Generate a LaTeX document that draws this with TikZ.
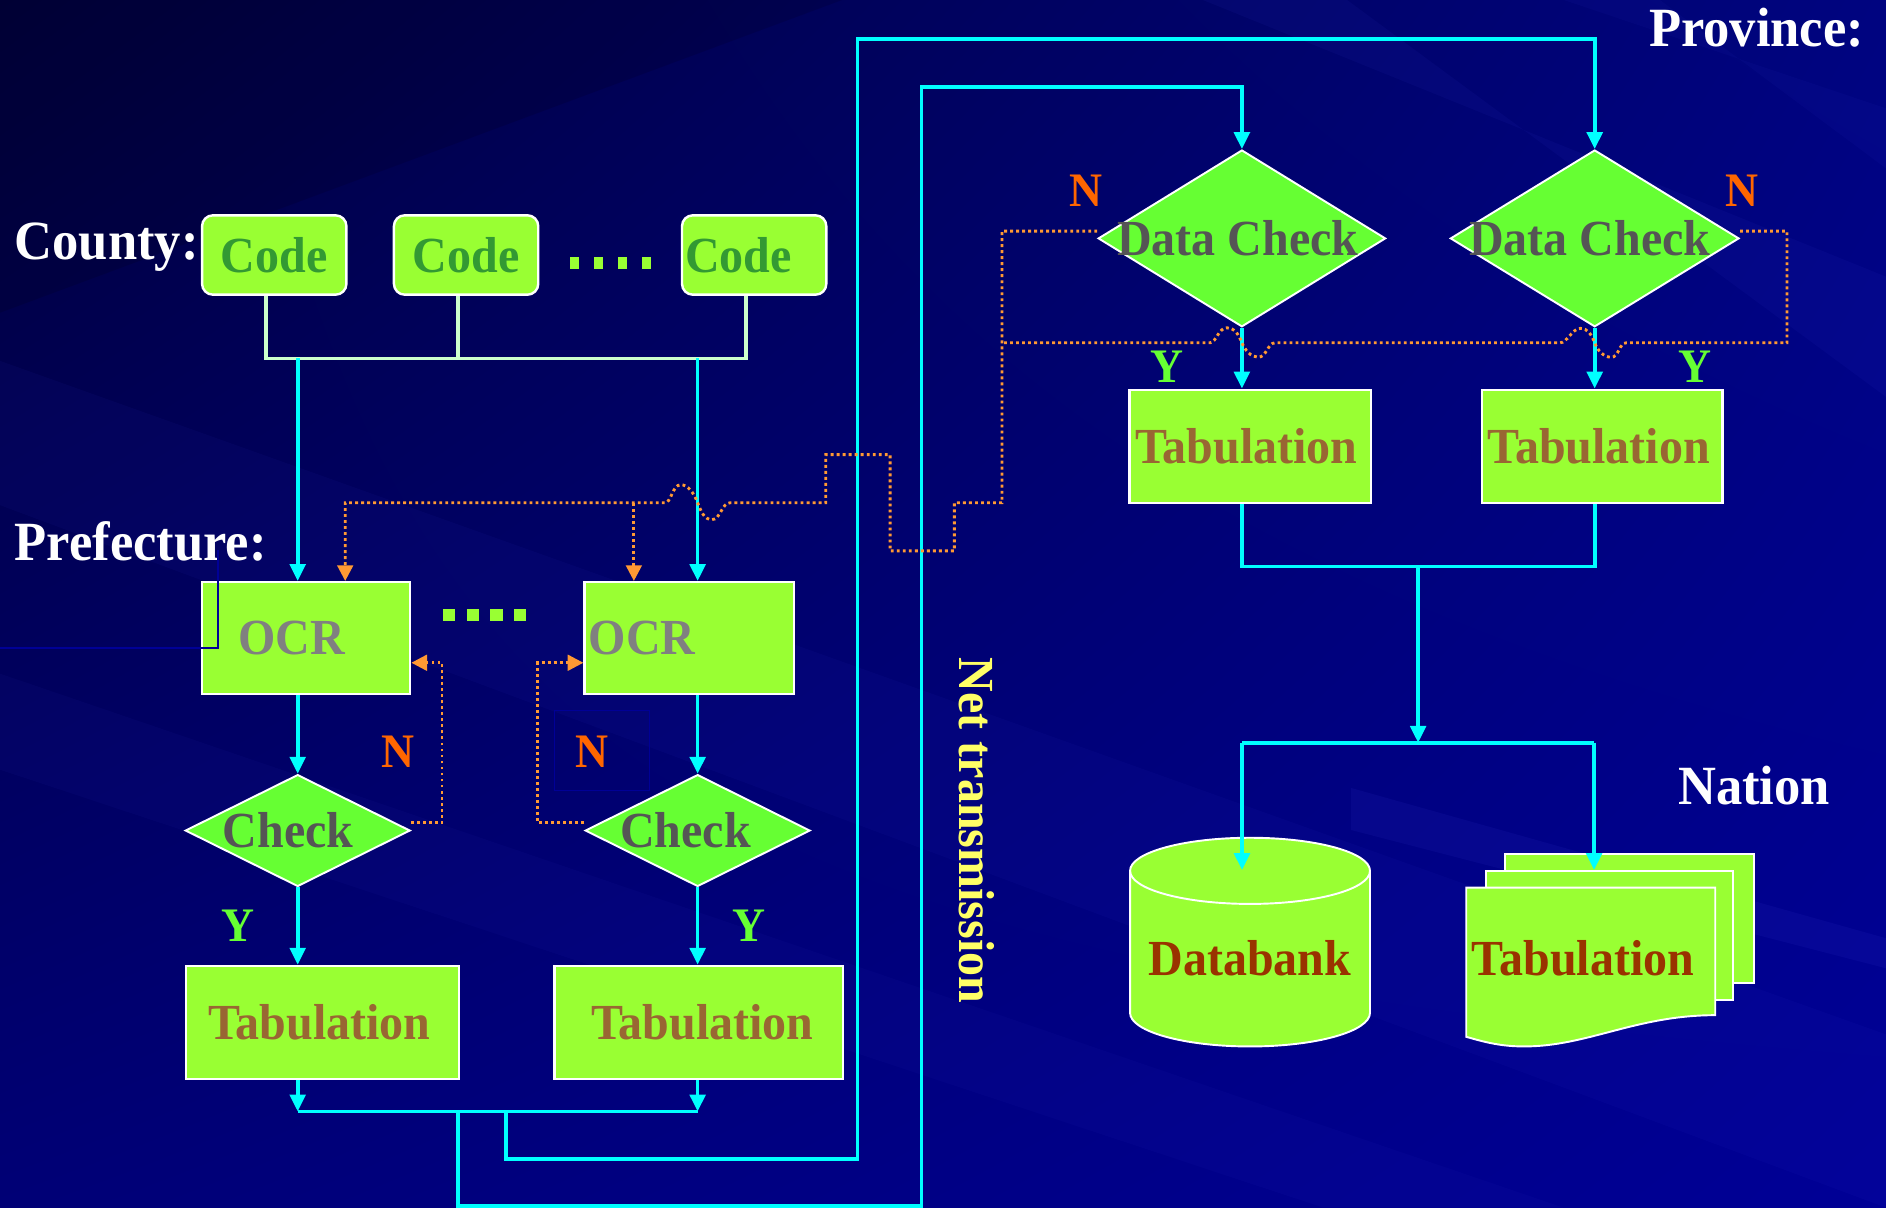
\documentclass[tikz,border=0pt]{standalone}
\usepackage{fontspec}
\setmainfont{Liberation Serif}
\newfontfamily\tnr{Liberation Serif}[FakeStretch=0.95]
\usetikzlibrary{arrows.meta,shapes.geometric,shadings}
\newcommand\myfs[1]{\fontsize{#1pt}{#1pt}\selectfont}
\definecolor{bgUL}{RGB}{0,0,60}
\definecolor{bgUR}{RGB}{0,4,128}
\definecolor{bgLL}{RGB}{0,0,118}
\definecolor{bgLR}{RGB}{0,0,150}
\definecolor{streak}{RGB}{60,60,220}
\definecolor{boxg}{HTML}{99FF33}
\definecolor{diag}{HTML}{66FF33}
\definecolor{codeg}{HTML}{339933}
\definecolor{ocrg}{HTML}{808080}
\definecolor{chkg}{HTML}{555555}
\definecolor{tabb}{HTML}{996633}
\definecolor{natr}{HTML}{993300}
\definecolor{cyanl}{HTML}{00FFFF}
\definecolor{palel}{HTML}{CCFFCC}
\definecolor{orng}{HTML}{FF9933}
\definecolor{nred}{HTML}{FF6600}
\definecolor{ygreen}{HTML}{66FF33}
\definecolor{nettx}{HTML}{FFFF66}
\definecolor{navyl}{RGB}{0,0,150}
\begin{document}
\begin{tikzpicture}[x=1pt,y=-1pt,
  box/.style={draw=white,line width=2pt,fill=boxg,inner sep=0pt},
  codebox/.style={box,rounded corners=9pt,minimum height=66pt},
  dia/.style={diamond,draw=white,line width=1.6pt,fill=diag,inner sep=0pt},
  btext/.style={font=\tnr\bfseries\myfs{42}},
  lbl/.style={font=\tnr\bfseries\myfs{46},text=white,inner sep=0pt},
  yn/.style={font=\tnr\bfseries\myfs{40},inner sep=0pt},
  cyl/.style={draw=cyanl,line width=3pt},
  cyarrow/.style={cyl,-{Triangle[width=13pt,length=14pt]}},
  pale/.style={draw=palel,line width=3pt},
  orn/.style={draw=orng,line width=2.4pt,dash pattern=on 2.4pt off 2.6pt},
  oarrow/.style={orn,-{Triangle[width=13pt,length=13pt,fill=orng]}},
  nat/.style={draw=white,line width=1.6pt,fill=boxg}]
\useasboundingbox (0,0) rectangle (1568,1004);
% background
\shade[upper left=bgUL,upper right=bgUR,lower left=bgLL,lower right=bgLR] (0,0) rectangle (1568,1004);
\fill[streak,opacity=0.06] (0,300) -- (0,420) -- (1568,1004) -- (1568,860) -- cycle;
\fill[streak,opacity=0.05] (0,560) -- (0,640) -- (1100,1004) -- (1300,1004) -- cycle;
\fill[streak,opacity=0.07] (1000,0) -- (1120,0) -- (1568,330) -- (1568,230) -- cycle;
\fill[streak,opacity=0.06] (1300,0) -- (1380,0) -- (1568,140) -- (1568,90) -- cycle;
\fill[streak,opacity=0.10] (1123,655) -- (1123,690) -- (1568,805) -- (1568,780) -- cycle;
\fill[black,opacity=0.12] (0,0) -- (700,0) -- (0,260) -- cycle;

% labels
\node[lbl,anchor=base west] (county) at (12,216) {County:};
\node[lbl,anchor=base west] (pref) at (12,466) {Prefecture:};
\node[lbl,anchor=base east] (prov) at (1550,39) {Province:};
\node[lbl,anchor=base west] (nation) at (1395,669) {Nation};

% county level
\node[codebox,minimum width=120pt,btext,text=codeg] (code1) at (228,212) {Code};
\node[codebox,minimum width=120pt,btext,text=codeg] (code2) at (387.5,212) {Code};
\node[codebox,minimum width=120pt,label={[btext,text=codeg,xshift=-13pt]center:Code}] (code3) at (627,212) {};
\foreach \xx in {474,494,514,534} \fill[boxg] (\xx,214) rectangle ++(7.5,10);

\coordinate (bL) at (221,298);
\coordinate (bM) at (381,298);
\coordinate (bR) at (620,298);
\draw[pale] (code1.south -| bL) -- (bL) -- (bR) -- (code3.south -| bR);
\draw[pale] (code2.south -| bM) -- (bM);
\coordinate (c1) at (247.5,298);
\coordinate (c2) at (580,298);

% prefecture level
\node[box,minimum width=173pt,minimum height=93pt,label={[btext,text=ocrg,xshift=-12pt]center:OCR}] (ocr1) at (254.5,530.5) {};
\node[box,minimum width=174pt,minimum height=93pt,label={[btext,text=ocrg,xshift=-39pt]center:OCR}] (ocr2) at (573,530.5) {};
\draw[navyl,line width=1.5pt] (181,457) -- (181,539) -- (0,539);
\foreach \xx in {368,388,407.5,427} \fill[boxg] (\xx,506) rectangle ++(10.4,10);

\draw[cyarrow] (c1) -- (ocr1.north -| c1);
\draw[cyarrow] (c2) -- (ocr2.north -| c2);

\node[dia,minimum width=187pt,minimum height=93pt,label={[btext,text=chkg,xshift=-8pt]center:Check}] (chk1) at (247.5,690.5) {};
\node[dia,minimum width=187pt,minimum height=93pt,label={[btext,text=chkg,xshift=-10pt]center:Check}] (chk2) at (580,690.5) {};
\draw[cyarrow] (ocr1.south -| chk1.north) -- (chk1.north);
\draw[cyarrow] (ocr2.south -| chk2.north) -- (chk2.north);

\node[box,minimum width=227pt,minimum height=94pt,label={[btext,text=tabb,xshift=-2.5pt]center:Tabulation}] (tab1) at (268,850) {};
\node[box,minimum width=240pt,minimum height=94pt,label={[btext,text=tabb,xshift=3pt]center:Tabulation}] (tab2) at (581,850) {};
\draw[cyarrow] (chk1.south) -- (tab1.north -| chk1.south);
\draw[cyarrow] (chk2.south) -- (tab2.north -| chk2.south);

\node[yn,text=ygreen] (y1) at (198,770) {Y};
\node[yn,text=ygreen] (y2) at (623,770) {Y};
\node[yn,text=nred] (n1) at (331,625) {N};
\node[yn,text=nred] (n2) at (492,625) {N};
\draw[navyl,line width=1pt] (461,591) rectangle (540,657);

% orange feedback OCR
\coordinate (fb1) at (367.5,551);
\coordinate (fb2) at (447,551);
\draw[oarrow] ([yshift=6.5pt]chk1.east) -| (fb1) -- (ocr1.east |- fb1);
\draw[oarrow] ([yshift=6.5pt]chk2.west) -| (fb2) -- (ocr2.west |- fb2);

% bottom bus and routes
\coordinate (t1) at (247.5,924);
\coordinate (t2) at (580,924);
\draw[cyarrow] (tab1.south -| t1) -- (t1);
\draw[cyarrow] (tab2.south -| t2) -- (t2);
\draw[cyl] (t1) -- (t2);
\coordinate (r1a) at (381,924);
\coordinate (r1b) at (766,1002.5);
\coordinate (r1c) at (766,72.3);
\coordinate (r2a) at (420.7,924);
\coordinate (r2b) at (713,963.6);
\coordinate (r2c) at (713,32.4);

% province level
\node[dia,minimum width=239pt,minimum height=147pt,label={[btext,text=chkg,xshift=-3.5pt]center:Data Check}] (dc1) at (1032.5,198.2) {};
\node[dia,minimum width=240pt,minimum height=147pt,label={[btext,text=chkg,xshift=-4pt]center:Data Check}] (dc2) at (1325.8,198.2) {};
\draw[cyarrow] (r1a) |- (r1b) -- (r1c) -| (dc1.north);
\draw[cyarrow] (r2a) |- (r2b) -- (r2c) -| (dc2.north);

\node[box,minimum width=200.6pt,minimum height=94pt,label={[btext,text=tabb,xshift=-3pt]center:Tabulation}] (tab3) at (1039.3,371) {};
\node[box,minimum width=200pt,minimum height=94pt,label={[btext,text=tabb,xshift=-3pt]center:Tabulation}] (tab4) at (1332,371) {};
\draw[cyarrow] (dc1.south) -- (tab3.north -| dc1.south);
\draw[cyarrow] (dc2.south) -- (tab4.north -| dc2.south);
\node[yn,text=nred] (n3) at (903,158.6) {N};
\node[yn,text=nred] (n4) at (1448.6,158.6) {N};
\node[yn,text=ygreen] (y3) at (970,304.6) {Y};
\node[yn,text=ygreen] (y4) at (1409,304.6) {Y};

% orange feedback Data Check
\coordinate (w1) at (833,418);
\coordinate (w2) at (793.5,458);
\coordinate (w3) at (740,378);
\coordinate (w4) at (686.5,418);
\coordinate (tL) at (287,418);
\coordinate (tM) at (527,418);
\draw[oarrow] ([yshift=6pt]dc1.west) -| (w1) -| (w2) -| (w3) -| (w4) -- (607,418)
  .. controls (600,418) and (599,432) .. (592,432)
  .. controls (585,432) and (583,425) .. (580,418)
  .. controls (577,410) and (572,403) .. (566,403)
  .. controls (559,403) and (558,418) .. (553,418)
  -- (tL) -- (ocr1.north -| tL);
\draw[oarrow] (tM) -- (ocr2.north -| tM);
\coordinate (v1) at (1485.7,285);
\coordinate (v2) at (833,285);
\draw[orn] ([yshift=6pt]dc2.east) -| (v1) -- (1352,285)
  .. controls (1346,285) and (1346,297) .. (1339.6,297)
  .. controls (1333,297) and (1328,291) .. (1325.8,285)
  .. controls (1323,278) and (1320,273) .. (1314,273)
  .. controls (1307,273) and (1303,285) .. (1297,285)
  -- (1060,285)
  .. controls (1054,285) and (1053,297) .. (1046,297)
  .. controls (1040,297) and (1035,291) .. (1032.5,285)
  .. controls (1030,278) and (1026,272.5) .. (1020,272.5)
  .. controls (1013,272.5) and (1011,285) .. (1006,285)
  -- (v2);

% nation level
\coordinate (j3) at (1032.5,471);
\coordinate (j4) at (1325.8,471);
\coordinate (jm) at (1179,471);
\coordinate (jb) at (1179,617.5);
\draw[cyl] (tab3.south -| j3) -- (j3) -- (j4) -- (tab4.south -| j4);
\draw[cyarrow] (jm) -- (jb);
\coordinate (nL) at (1032.6,617.5);
\coordinate (nR) at (1325.3,617.5);
\draw[cyl] (nL) -- (nR);

\filldraw[nat] (939.5,724) -- (939.5,842) arc[start angle=180,end angle=0,x radius=99.75,y radius=28] -- (1139,724) arc[start angle=0,end angle=-180,x radius=99.75,y radius=27.5] -- cycle;
\draw[nat,fill=none] (939.5,724) arc[start angle=180,end angle=0,x radius=99.75,y radius=27.5];
\node[btext,text=natr] (db) at (1039,797) {Databank};

\filldraw[nat] (1251,710) rectangle (1458,817);
\filldraw[nat] (1235.5,724) rectangle (1441,831);
\filldraw[nat] (1219,738) -- (1426,738) -- (1426,844) .. controls (1360,844) and (1320,870) .. (1267,870) .. controls (1245,870) and (1230,865) .. (1219,862) -- cycle;
\node[btext,text=natr] (ntab) at (1316,797) {Tabulation};

\coordinate (dbin) at (1032.6,723.3);
\coordinate (tbin) at (1325.3,723.3);
\draw[cyarrow] (nL) -- (dbin);
\draw[cyarrow] (nR) -- (tbin);

\node[font=\tnr\bfseries\myfs{42},text=nettx,rotate=-90,inner sep=0pt] (net) at (812,690.5) {Net transmission};
\end{tikzpicture}
\end{document}
